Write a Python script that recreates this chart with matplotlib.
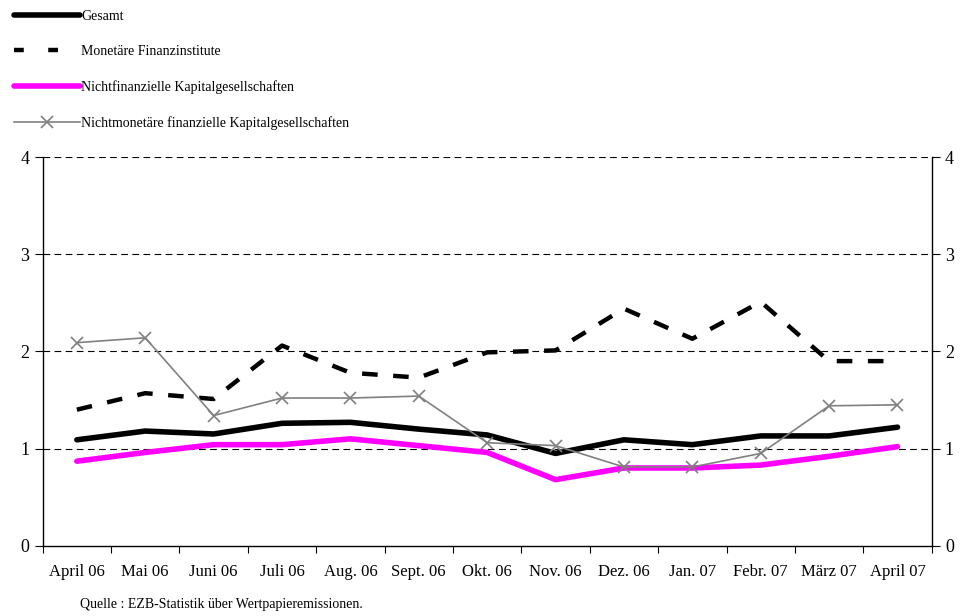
import numpy
from matplotlib import pyplot as plt

plt.rcParams['font.family'] = ['Liberation Serif', 'DejaVu Serif']

months = ['April 06', 'Mai 06', 'Juni 06', 'Juli 06', 'Aug. 06', 'Sept. 06', 'Okt. 06',
          'Nov. 06', 'Dez. 06', 'Jan. 07', 'Febr. 07', 'März 07', 'April 07']

gesamt = [1.09, 1.18, 1.15, 1.26, 1.27, 1.20, 1.14, 0.95, 1.09, 1.04, 1.13, 1.13, 1.22]
mfi = [1.40, 1.57, 1.51, 2.06, 1.78, 1.73, 1.99, 2.01, 2.44, 2.13, 2.51, 1.90, 1.90]
nfk = [0.87, 0.96, 1.04, 1.04, 1.10, 1.03, 0.96, 0.68, 0.80, 0.80, 0.83, 0.92, 1.02]
nmfk = [2.09, 2.14, 1.34, 1.52, 1.52, 1.54, 1.06, 1.03, 0.81, 0.81, 0.95, 1.44, 1.45]

labels = ['Gesamt', 'Monetäre Finanzinstitute', 'Nichtfinanzielle Kapitalgesellschaften',
          'Nichtmonetäre finanzielle Kapitalgesellschaften']

x = numpy.arange(len(months))

fig = plt.figure(figsize=(9.61, 6.16), dpi=100)
ax = fig.add_axes([0.0444, 0.1141, 0.9251, 0.6309])

for v in [1, 2, 3, 4]:
    ax.axhline(v, color='black', linewidth=0.8, linestyle=(0, (6, 4)), zorder=1)

l1, = ax.plot(x, gesamt, color='black', linewidth=4, solid_capstyle='round', zorder=4)
l2, = ax.plot(x, mfi, color='black', linewidth=3.2, linestyle=(0, (3.5, 3.5)), zorder=3)
l3, = ax.plot(x, nfk, color='#ff00ff', linewidth=4, solid_capstyle='round', zorder=3)
l4, = ax.plot(x, nmfk, color='#808080', linewidth=1.2, marker='x', markersize=8,
              markeredgewidth=1.2, zorder=5)

# legend handle for the dashed line has wider gaps, like in the original
h2, = plt.plot([], [], color='black', linewidth=3.2, linestyle=(0, (2.2, 5.5)))

ax.set_xlim(-0.5, 12.5)
ax.set_ylim(0, 4)
ax.set_yticks([0, 1, 2, 3, 4])
ax.set_xticks(numpy.arange(-0.5, 13, 1))
ax.set_xticklabels([])
ax.set_xticks(x, minor=True)
ax.set_xticklabels(months, minor=True, fontsize=12)
ax.tick_params(axis='x', which='minor', length=0, pad=13)
ax.tick_params(axis='x', which='major', length=5, width=0.8)
ax.tick_params(axis='y', which='major', length=6, width=0.8, labelsize=13,
               left=True, right=True, labelleft=True, labelright=True)

ax.spines['top'].set_visible(False)
for s in ['left', 'right', 'bottom']:
    ax.spines[s].set_linewidth(1.0)

fig.legend([l1, h2, l3, l4], labels, loc='upper left', bbox_to_anchor=(0.004, 1.0),
           frameon=False, fontsize=10, handlelength=4.8, handletextpad=0.05,
           labelspacing=1.6, borderaxespad=0.3)

fig.text(0.083, 0.013, 'Quelle : EZB-Statistik über Wertpapieremissionen.', fontsize=10)

fig.savefig('out.png', dpi=100)
plt.close(fig)
